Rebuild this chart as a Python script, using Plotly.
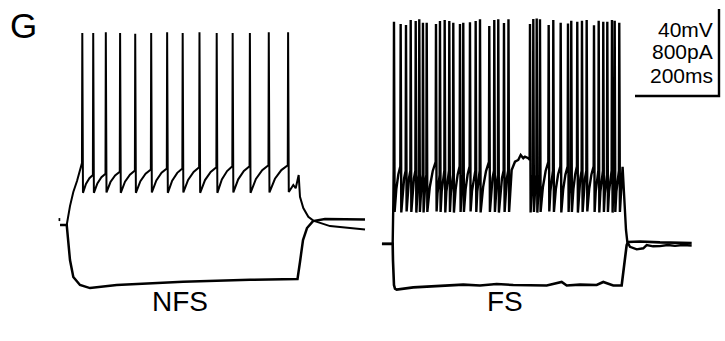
import plotly.graph_objects as go

# ---------------- data (time in ms from step onset, membrane potential in mV)
# NFS cell, depolarising step
NFS_SPIKE_T = [40, 66, 96, 130, 166, 204, 242, 279, 319, 360, 398, 439, 484, 530]
NFS_SPIKE_PEAK = [18.3, 18.3, 18.6, 18.3, 17.9, 18.3, 18.6, 18.3, 18.6, 18.3, 18.3, 18.3, 18.6, 18.6]
NFS_TROUGH = [-55.2, -55.2, -55.0, -55.2, -55.2, -55.0, -55.2, -55.0, -55.2, -55.2, -55.0, -55.2, -55.0, -54.8]
NFS_PRE = [-41.5, -47.0, -46.5, -45.5, -45.0, -44.5, -44.0, -44.0, -43.5, -43.5, -43.0, -43.0, -42.5, -42.5]
NFS_ONSET_T = [-13, 2.9, 10.7, 18.6, 27.4, 35.7]
NFS_ONSET_V = [-70.0, -70.0, -61.3, -54.8, -49.8, -44.3]
NFS_OFFSET_T = [542.4, 548.1, 555.2, 558.3, 566.2, 578.1, 590.0, 629.8, 713.1]
NFS_OFFSET_V = [-51.6, -53.1, -47.0, -57.0, -62.2, -66.2, -68.0, -70.5, -72.1]
# NFS cell, hyperpolarising step
NFS_HYP_T = [-13, 2.9, 10.7, 18.6, 34.5, 58.3, 121.9, 279.8, 439.3, 552.4, 558.3, 565.5, 575.0, 589.3, 617.9, 713.1]
NFS_HYP_V = [-70.0, -70.0, -86.1, -93.9, -97.6, -99.0, -97.6, -96.1, -95.2, -94.8, -87.0, -76.9, -71.4, -68.2, -67.2, -67.5]
NFS_MARK_T = [-16.5, -12.5]
NFS_MARK_V = [-67.5, -67.5]

# FS cell, depolarising step
FS_SPIKE_T = [3.1, 19.0, 31.7, 42.9, 54.8, 63.3, 72.1, 81.0, 103.1, 112.6, 123.8, 134.8, 144.3, 160.2,
              168.1, 184.0, 197.6, 207.9, 230.0, 241.9, 251.4, 265.0, 275.7, 326.9, 334.8, 342.9,
              350.7, 371.4, 382.4, 400.0, 417.4, 425.2, 439.5, 450.7, 461.9, 479.3, 490.5, 501.4,
              511.0, 522.1, 528.6, 539.5]
FS_SPIKE_PEAK = [23.5, 22.4, 22.0, 24.3, 23.8, 24.6, 23.0, 23.0, 22.4, 23.8, 24.3, 23.8, 23.0, 22.4,
                 23.0, 23.2, 23.8, 24.6, 21.5, 24.3, 24.6, 22.9, 24.6, 22.4, 24.7, 25.0,
                 24.6, 22.0, 24.3, 23.0, 22.7, 23.9, 23.5, 23.9, 24.3, 21.8, 23.9, 23.5,
                 23.5, 24.3, 23.9, 23.0]
FS_TROUGH = [-64.0, -64.2, -63.8, -64.0, -64.3, -64.0, -64.2, -64.0, -63.8, -64.0, -64.2, -64.0, -64.3, -64.0,
             -64.0, -63.8, -64.0, -64.2, -64.0, -64.0, -64.3, -64.0, -64.0, -64.2, -64.0, -64.3,
             -64.0, -63.8, -64.0, -64.2, -64.0, -64.0, -64.3, -64.0, -63.8, -64.0, -64.2, -64.0,
             -64.0, -64.3, -64.0, -64.0]
FS_PRE = [-45, -43, -45, -45, -45, -47, -47, -47, -41, -47, -45, -45, -47, -43,
          -47, -43, -45, -45, -41, -45, -47, -45, -45, -40, -47, -47,
          -47, -41, -45, -43, -43, -47, -43, -45, -45, -43, -45, -45,
          -47, -45, -47, -45]
FS_PLATEAU_T = [283.3, 291.2, 299.0, 304.8, 311.0, 315.0, 322.9]
FS_PLATEAU_V = [-44.7, -40.9, -40.1, -37.8, -39.3, -38.6, -39.3]
FS_ONSET_T = [-25.5, 0.0, 1.5]
FS_ONSET_V = [-78.7, -78.7, -60.0]
FS_OFFSET_T = [547.4, 550.7, 555.5, 558.6, 565.0, 581.0, 596.7, 604.8, 620.0, 636.4, 655.0, 672.1, 690.0, 711.9]
FS_OFFSET_V = [-43.2, -56.2, -72.3, -77.7, -80.0, -81.2, -80.7, -79.2, -79.8, -79.7, -79.2, -79.6, -79.2, -79.4]
# FS cell, hyperpolarising step
FS_HYP_T = [-25.5, 0.0, 0.7, 3.1, 5.5, 9.5, 49.0, 88.8, 128.6, 168.1, 207.9, 247.6, 287.1, 326.9, 366.7,
            402.4, 414.3, 446.0, 485.7, 501.4, 525.2, 545.2, 549.0, 553.1, 557.1, 560.2, 588.8, 636.4, 711.9]
FS_HYP_V = [-78.7, -78.7, -86.1, -97.6, -99.3, -99.7, -98.7, -98.3, -97.8, -97.4, -97.8, -97.1, -97.6, -97.6, -97.8,
            -96.2, -97.8, -97.4, -97.6, -96.2, -97.8, -97.8, -92.1, -84.6, -79.2, -77.8, -77.6, -78.0, -78.3]

PANEL_LABELS = ["NFS", "FS"]
FIG_LABEL = "G"
SCALE_MV = 40
SCALE_MS = 200
SCALE_TEXT = ["40mV", "800pA", "200ms"]

# ---------------- layout constants
W, H = 725, 341
PX_PER_MS = 0.42
PX_PER_MV = 2.175
X0_PX = 65.5
V_MAX = 72.75 / PX_PER_MV
T_MIN = -X0_PX / PX_PER_MS
T_MAX = T_MIN + W / PX_PER_MS
V_MIN = V_MAX - H / PX_PER_MV
FS_SHIFT_MS = 779.0


def spike_train(on_t, on_v, spk_t, spk_pk, trough, pre, off_t, off_v, up, down, custom=None):
    custom = custom or {}
    t, v = list(on_t), list(on_v)
    t.append(spk_t[0] - up)
    v.append(pre[0])
    n = len(spk_t)
    for i in range(n):
        s = spk_t[i]
        t += [s, s + down]
        v += [spk_pk[i], trough[i]]
        if i < n - 1:
            nxt = spk_t[i + 1]
            if i in custom:
                t += list(custom[i][0])
                v += list(custom[i][1])
            else:
                span = nxt - up - (s + down)
                p = pre[i + 1]
                t += [s + down + 0.3 * span, s + down + 0.65 * span]
                v += [trough[i] + 0.5 * (p - trough[i]), trough[i] + 0.82 * (p - trough[i])]
            t.append(nxt - up)
            v.append(pre[i + 1])
    t += list(off_t)
    v += list(off_v)
    return t, v


nfs_t, nfs_v = spike_train(NFS_ONSET_T, NFS_ONSET_V, NFS_SPIKE_T, NFS_SPIKE_PEAK, NFS_TROUGH, NFS_PRE,
                           NFS_OFFSET_T, NFS_OFFSET_V, up=0.8, down=1.6)
fs_t, fs_v = spike_train(FS_ONSET_T, FS_ONSET_V, FS_SPIKE_T, FS_SPIKE_PEAK, FS_TROUGH, FS_PRE,
                         FS_OFFSET_T, FS_OFFSET_V, up=0.8, down=1.5,
                         custom={22: (FS_PLATEAU_T, FS_PLATEAU_V)})

fig = go.Figure()


def add(t, v, shift=0.0, width=2.2):
    fig.add_trace(go.Scatter(x=[x + shift for x in t], y=v, mode="lines",
                             line=dict(color="black", width=width), hoverinfo="skip", showlegend=False))


add(NFS_HYP_T, NFS_HYP_V, width=2.5)
add(nfs_t, nfs_v, width=2.0)
add(NFS_MARK_T, NFS_MARK_V, width=3)
add(FS_HYP_T, FS_HYP_V, FS_SHIFT_MS, width=2.6)
add(fs_t, fs_v, FS_SHIFT_MS, width=2.4)

# scale bar (drawn in data units)
bar_right = (719 - X0_PX) / PX_PER_MS
bar_top = (72.75 - 9) / PX_PER_MV
add([bar_right, bar_right, bar_right - SCALE_MS], [bar_top, bar_top - SCALE_MV, bar_top - SCALE_MV], width=2.4)

font = "Liberation Sans, Arial, Helvetica, sans-serif"
ann = []
ann.append(dict(text=FIG_LABEL, x=23.5 / W, y=1 - 25 / H, xref="paper", yref="paper",
                xanchor="center", yanchor="middle", showarrow=False,
                font=dict(family=font, size=35, color="black")))
for lab, xc in zip(PANEL_LABELS, [180, 505]):
    ann.append(dict(text=lab, x=xc / W, y=1 - 301 / H, xref="paper", yref="paper",
                    xanchor="center", yanchor="middle", showarrow=False,
                    font=dict(family=font, size=28, color="black")))
for txt, yc in zip(SCALE_TEXT, [29, 52, 75]):
    ann.append(dict(text=txt, x=715 / W, y=1 - yc / H, xref="paper", yref="paper",
                    xanchor="right", yanchor="middle", showarrow=False,
                    font=dict(family=font, size=21, color="black")))

fig.update_layout(
    width=W, height=H, margin=dict(l=0, r=0, t=0, b=0, pad=0),
    paper_bgcolor="white", plot_bgcolor="white",
    xaxis=dict(range=[T_MIN, T_MAX], visible=False, fixedrange=True),
    yaxis=dict(range=[V_MIN, V_MAX], visible=False, fixedrange=True),
    annotations=ann,
)

fig.write_html("out.html", config={"displayModeBar": False},
               post_script="document.body.style.margin='0';document.body.style.overflow='hidden';")
